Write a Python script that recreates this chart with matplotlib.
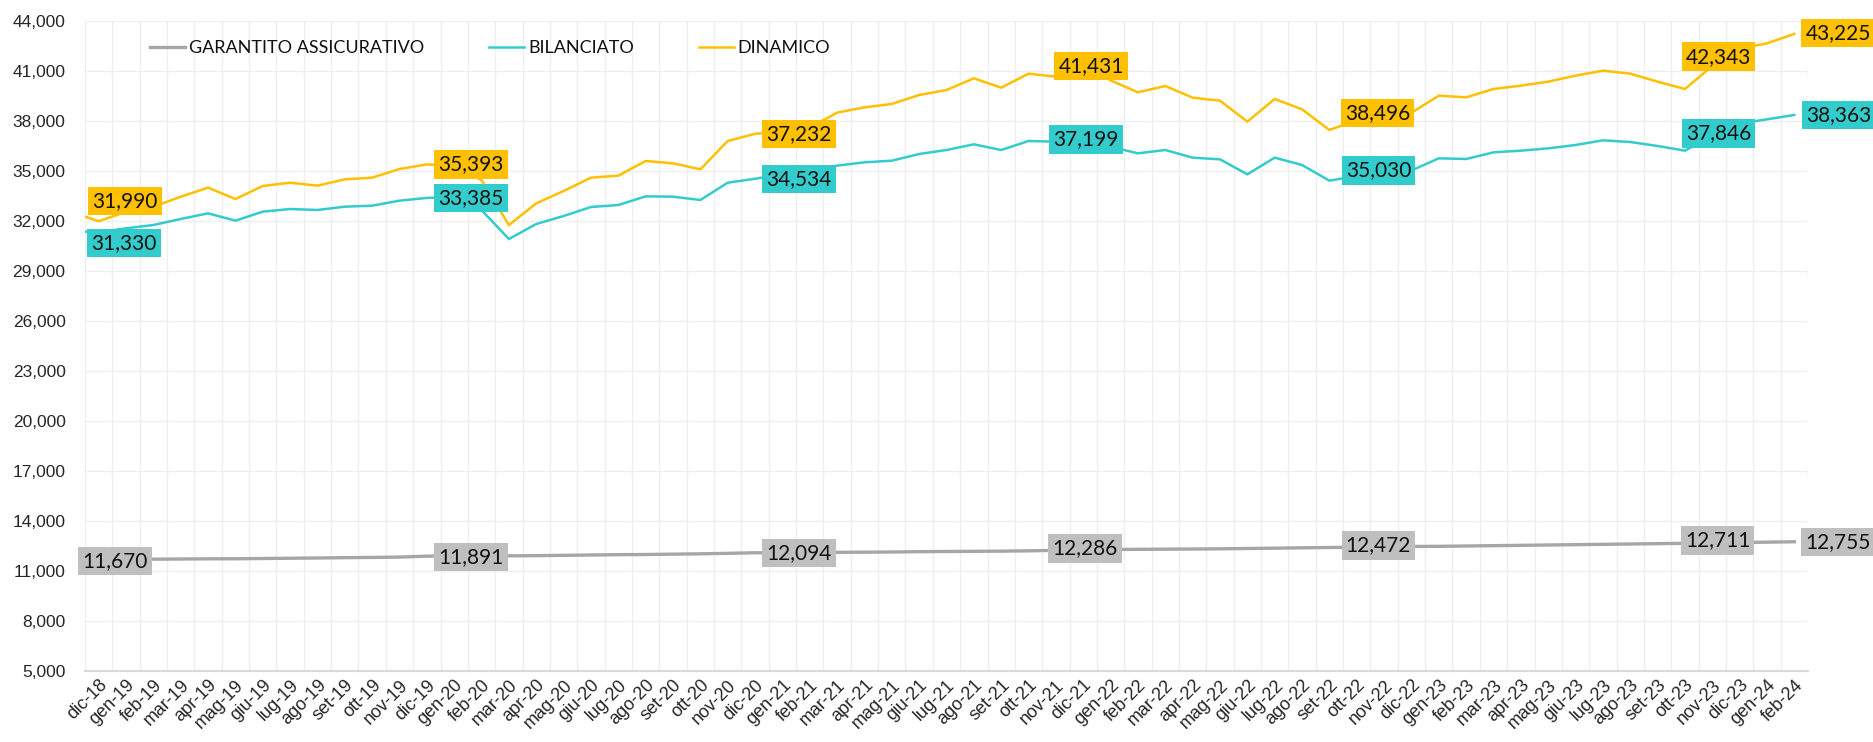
import numpy as np
import matplotlib
matplotlib.use("Agg")
import matplotlib.pyplot as plt
from matplotlib.ticker import FuncFormatter

plt.rcParams['font.family'] = ['Liberation Sans', 'DejaVu Sans']

# mesi (il primo, nov-18, cade fuori dall'asse: serve solo per il tratto iniziale)
mesi = ['nov-18', 'dic-18',
        'gen-19', 'feb-19', 'mar-19', 'apr-19', 'mag-19', 'giu-19', 'lug-19', 'ago-19', 'set-19', 'ott-19', 'nov-19', 'dic-19',
        'gen-20', 'feb-20', 'mar-20', 'apr-20', 'mag-20', 'giu-20', 'lug-20', 'ago-20', 'set-20', 'ott-20', 'nov-20', 'dic-20',
        'gen-21', 'feb-21', 'mar-21', 'apr-21', 'mag-21', 'giu-21', 'lug-21', 'ago-21', 'set-21', 'ott-21', 'nov-21', 'dic-21',
        'gen-22', 'feb-22', 'mar-22', 'apr-22', 'mag-22', 'giu-22', 'lug-22', 'ago-22', 'set-22', 'ott-22', 'nov-22', 'dic-22',
        'gen-23', 'feb-23', 'mar-23', 'apr-23', 'mag-23', 'giu-23', 'lug-23', 'ago-23', 'set-23', 'ott-23', 'nov-23', 'dic-23',
        'gen-24', 'feb-24']

garantito = [11650, 11670,
             11690, 11710, 11720, 11730, 11735, 11750, 11765, 11780, 11800, 11815, 11835, 11891,
             11900, 11905, 11910, 11920, 11940, 11960, 11980, 11990, 12010, 12030, 12060, 12094,
             12100, 12110, 12120, 12130, 12140, 12160, 12170, 12180, 12190, 12210, 12240, 12286,
             12290, 12300, 12310, 12320, 12330, 12350, 12370, 12390, 12410, 12430, 12450, 12472,
             12480, 12500, 12520, 12540, 12560, 12580, 12600, 12620, 12640, 12660, 12690, 12711,
             12730, 12755]

bilanciato = [31390, 31330,
              31560, 31760, 32120, 32460, 32020, 32560, 32720, 32660, 32860, 32920, 33220, 33385,
              33420, 32650, 30920, 31820, 32300, 32840, 32960, 33480, 33460, 33260, 34300, 34534,
              34800, 35050, 35320, 35520, 35620, 36020, 36260, 36600, 36260, 36800, 36760, 37199,
              36450, 36060, 36260, 35800, 35700, 34800, 35800, 35360, 34420, 34700, 34900, 35030,
              35760, 35720, 36120, 36220, 36360, 36560, 36840, 36740, 36500, 36220, 37100, 37846,
              38100, 38363]

dinamico = [32530, 31990,
            32550, 32850, 33460, 34000, 33320, 34100, 34300, 34120, 34500, 34600, 35120, 35393,
            35300, 34450, 31760, 33060, 33800, 34600, 34720, 35600, 35460, 35100, 36800, 37232,
            37400, 37600, 38500, 38820, 39020, 39560, 39860, 40560, 40000, 40840, 40660, 41431,
            40440, 39720, 40100, 39400, 39220, 37960, 39320, 38700, 37460, 38050, 38300, 38496,
            39520, 39420, 39920, 40120, 40360, 40720, 41020, 40840, 40360, 39920, 41300, 42343,
            42660, 43225]

tick_y = [5000, 8000, 11000, 14000, 17000, 20000, 23000, 26000, 29000, 32000, 35000, 38000, 41000, 44000]

nomi = ['GARANTITO ASSICURATIVO', 'BILANCIATO', 'DINAMICO']
colori = ['#A6A6A6', '#33CCCC', '#FFC000']
colori_box = ['#BFBFBF', '#33CCCC', '#FFC000']

# etichette: indice del mese -> spostamento del riquadro in pixel (dx, dy)
etichette = [
    {1: (16, -1), 13: (44, -1), 25: (44, 0), 37: (2, 1), 49: (-33, 1), 61: (-22, 2), 63: (44, 0)},
    {1: (25, -11), 13: (44, 0), 25: (44, 0), 37: (3, -5), 49: (-33, 0), 61: (-21, -10), 63: (44, 0)},
    {1: (26, 20), 13: (44, 0), 25: (44, 0), 37: (8, -2), 49: (-34, 0), 61: (-21, -8), 63: (44, 1)},
]

x = np.arange(len(mesi)) - 1

fig = plt.figure(figsize=(18.73, 7.42), dpi=100)
ax = fig.add_axes([85 / 1873, 1 - 671 / 742, 1723 / 1873, 650 / 742])

serie = [garantito, bilanciato, dinamico]
spessori = [2.4, 1.8, 1.8]
for s, nome, col, lw in zip(serie, nomi, colori, spessori):
    ax.plot(x, s, color=col, lw=lw, label=nome, zorder=3, solid_joinstyle='miter')

for s, col, pos in zip(serie, colori_box, etichette):
    for i, (dx, dy) in pos.items():
        ax.annotate(f"{s[i]:,}", (x[i], s[i]), xytext=(dx, dy), textcoords='offset pixels',
                    ha='center', va='center', fontsize=15, family='Lato', color='#111111',
                    bbox=dict(boxstyle='square,pad=0.2', fc=col, ec='none'),
                    zorder=5, annotation_clip=False)

ax.set_xlim(-0.5, len(mesi) - 1.5)
ax.set_ylim(5000, 44000)
ax.set_yticks(tick_y)
ax.yaxis.set_major_formatter(FuncFormatter(lambda v, p: f"{v:,.0f}"))
ax.set_xticks(x[1:])
ax.set_xticklabels(mesi[1:], rotation=45, ha='right', va='top', rotation_mode='anchor')
ax.set_xticks(np.arange(-0.5, len(mesi) - 1, 1), minor=True)

ax.tick_params(axis='both', which='both', length=0, labelcolor='#262626')
ax.tick_params(axis='x', pad=4, labelsize=13)
ax.tick_params(axis='y', pad=14, labelsize=12.5)

ax.grid(axis='y', which='major', color='#EFEFEF', lw=1)
ax.grid(axis='x', which='minor', color='#EFEFEF', lw=1)
ax.set_axisbelow(True)
for side in ['left', 'right', 'top']:
    ax.spines[side].set_visible(False)
ax.spines['bottom'].set_color('#D9D9D9')
ax.spines['bottom'].set_linewidth(1.5)

leg = ax.legend(loc='center left', bbox_to_anchor=((150 - 85) / 1723, (671 - 48) / 650),
                ncol=3, frameon=False, borderpad=0, borderaxespad=0,
                handlelength=1.95, handletextpad=0.2, columnspacing=3.6,
                prop={'family': 'Lato', 'size': 13})
for t in leg.get_texts():
    t.set_color('#111111')

fig.savefig('out.png', dpi=100)
